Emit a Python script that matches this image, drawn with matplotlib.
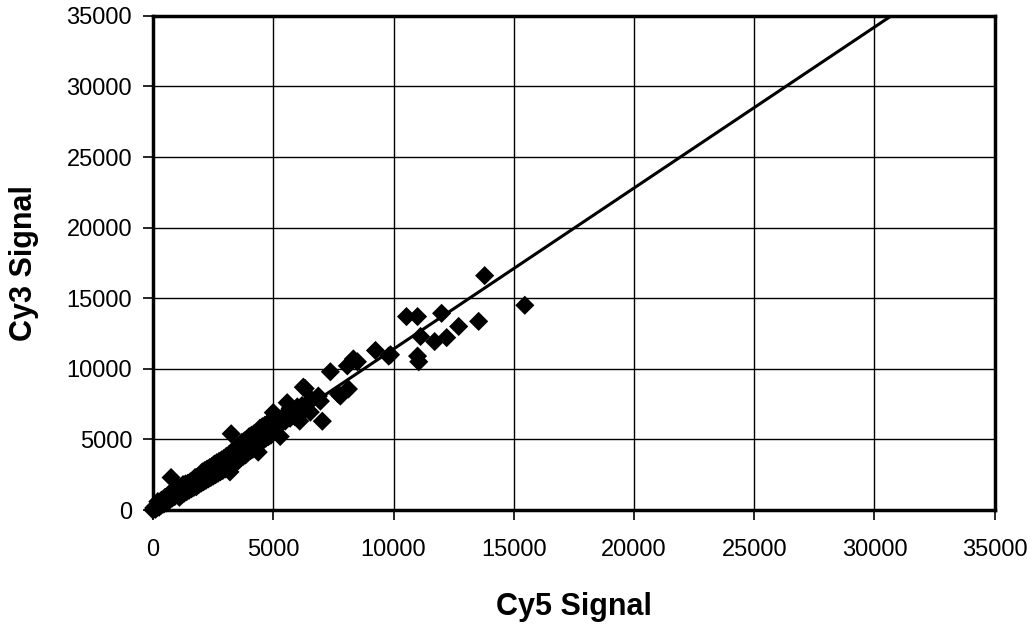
import numpy as np
import matplotlib.pyplot as plt

plt.rcParams['font.family'] = ['Liberation Sans', 'DejaVu Sans']

# Cy5 / Cy3 signal pairs (dense band + outliers)
cy5 = [50, 100, 150, 200, 250, 300, 350, 400, 450, 500, 550, 600, 650, 700, 750, 800, 850, 900, 950, 1000,
       1050, 1100, 1150, 1200, 1250, 1300, 1350, 1400, 1450, 1500, 1550, 1600, 1650, 1700, 1750, 1800, 1850, 1900, 1950, 2000,
       2050, 2100, 2150, 2200, 2250, 2300, 2350, 2400, 2450, 2500, 2550, 2600, 2650, 2700, 2750, 2800, 2850, 2900, 2950, 3000,
       3050, 3100, 3200, 3250, 3150, 3300, 3350, 3400, 3450, 3500, 3550, 3600, 3650, 3700, 3750, 3800, 3850, 3900, 3950, 4000,
       4050, 4100, 4150, 4200, 4250, 4300, 4375, 4400, 4450, 4500, 4550, 4600, 4650, 4700, 4750, 4800, 4850, 4900, 4950, 5000,
       5050, 5100, 5000, 5200, 5290, 5300, 5400, 5500, 5580, 5600, 5700, 5800, 5900, 6000, 6100, 6200, 6300, 6400, 6540, 6250,
       6330, 6875, 6960, 7040, 7375, 7710, 7790, 8125, 8080, 8330, 8500, 9250, 9800, 9875,
       10540, 11000, 12000, 13540, 12710, 12210, 11710, 11125, 11000, 11050, 13790, 15460,
       0, 100, 30, 200, 350, 500, 650, 800, 5700, 6100, 6600]
cy3 = [100, 250, 150, 300, 200, 400, 350, 500, 420, 600, 500, 700, 650, 800, 2300, 850, 1000, 950, 1100, 1150,
       1550, 900, 1500, 1100, 1800, 1200, 1850, 1300, 1900, 1400, 2000, 1500, 2100, 1600, 2300, 1650, 2350, 1800, 2450, 1900,
       2700, 2000, 2800, 2100, 2900, 2200, 3000, 2300, 3100, 2400, 3250, 2500, 3350, 2600, 3450, 2700, 3550, 2800, 3650, 2900,
       3800, 3000, 2700, 5400, 3900, 4100, 3300, 4300, 3400, 4500, 3500, 4600, 3700, 4800, 3800, 4900, 3900, 5000, 4100, 5200,
       4200, 5300, 4300, 5400, 4500, 5500, 4100, 4700, 5800, 4800, 5900, 5000, 6000, 5100, 6100, 5200, 6200, 5300, 6400, 5500,
       6200, 5900, 6900, 6400, 5210, 6100, 6600, 6300, 7600, 6800, 6500, 7000, 6600, 7300, 6800, 7400, 7100, 7500, 6930, 8700,
       8600, 8070, 7710, 6290, 9790, 8210, 8070, 8570, 10210, 10700, 10500, 11300, 10900, 11000,
       13700, 13700, 13930, 13360, 13000, 12210, 11930, 12290, 10900, 10500, 16600, 14500,
       0, 50, 150, 600, 700, 900, 1100, 1300, 7200, 6300, 7800]

# linear trendline
slope = 1.14
intercept = 0.0

ticks = [0, 5000, 10000, 15000, 20000, 25000, 30000, 35000]

fig = plt.figure(figsize=(10.34, 6.32), dpi=100)
ax = fig.add_axes([0.148, 0.193, 0.814, 0.782])

ax.scatter(cy5, cy3, marker='D', s=95, color='black', edgecolors='none', zorder=3, clip_on=False)

xl = np.array([0, 35000])
ax.plot(xl, slope * xl + intercept, color='black', lw=2.2, zorder=4)

ax.set_xlim(0, 35000)
ax.set_ylim(0, 35000)
ax.set_xticks(ticks)
ax.set_yticks(ticks)
ax.set_xticklabels([str(t) for t in ticks], fontsize=17)
ax.set_yticklabels([str(t) for t in ticks], fontsize=17)
ax.tick_params(direction='out', length=7, width=1.2, color='black')
ax.tick_params(axis='x', pad=14)
ax.tick_params(axis='y', pad=8)
ax.grid(True, color='black', lw=1.0)
ax.set_axisbelow(True)
for sp in ax.spines.values():
    sp.set_linewidth(2.5)

ax.set_xlabel('Cy5 Signal', fontsize=22, fontweight='bold', labelpad=22)
ax.set_ylabel('Cy3 Signal', fontsize=22, fontweight='bold', labelpad=20)

fig.savefig('out.png', dpi=100)
